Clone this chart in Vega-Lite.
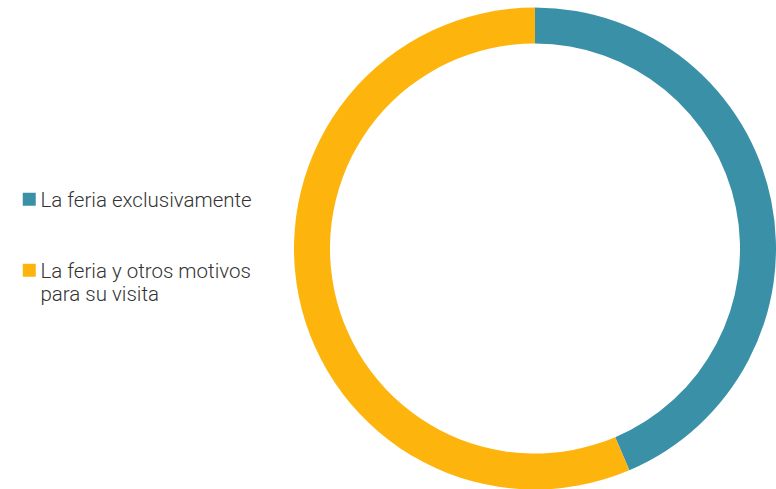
{
  "$schema": "https://vega.github.io/schema/vega-lite/v6.json",
  "autosize": {"type": "fit", "contains": "padding"},
  "width": 776,
  "height": 489,
  "padding": {"left": 294, "top": 8, "right": 0, "bottom": 0},
  "background": "white",
  "view": {"stroke": null},
  "data": {"values": [
    {"categoria": "La feria exclusivamente", "valor": 43.6, "orden": 1},
    {"categoria": "La feria y otros motivos para su visita", "valor": 56.4, "orden": 2}
  ]},
  "mark": {"type": "arc", "outerRadius": 241, "innerRadius": 205},
  "encoding": {
    "theta": {"field": "valor", "type": "quantitative", "stack": true},
    "order": {"field": "orden", "type": "quantitative"},
    "color": {
      "field": "categoria",
      "type": "nominal",
      "sort": ["La feria exclusivamente", "La feria y otros motivos para su visita"],
      "scale": {"domain": ["La feria exclusivamente", "La feria y otros motivos para su visita"], "range": ["#3A91A7", "#FDB50D"]},
      "legend": {
        "title": null,
        "orient": "none",
        "legendX": -275,
        "legendY": 181,
        "symbolType": "square",
        "symbolSize": 169,
        "symbolStrokeWidth": 0,
        "labelFont": "Roboto",
        "labelFontWeight": 300,
        "labelFontSize": 20.5,
        "labelColor": "#333333",
        "labelOffset": 1,
        "labelLimit": 400,
        "rowPadding": 48,
        "labelBaseline": "alphabetic",
        "labelExpr": "datum.label == 'La feria y otros motivos para su visita' ? ['La feria y otros motivos', 'para su visita'] : datum.label",
        "encode": {"labels": {"update": {"dy": {"value": 8}}}}
      }
    }
  }
}
